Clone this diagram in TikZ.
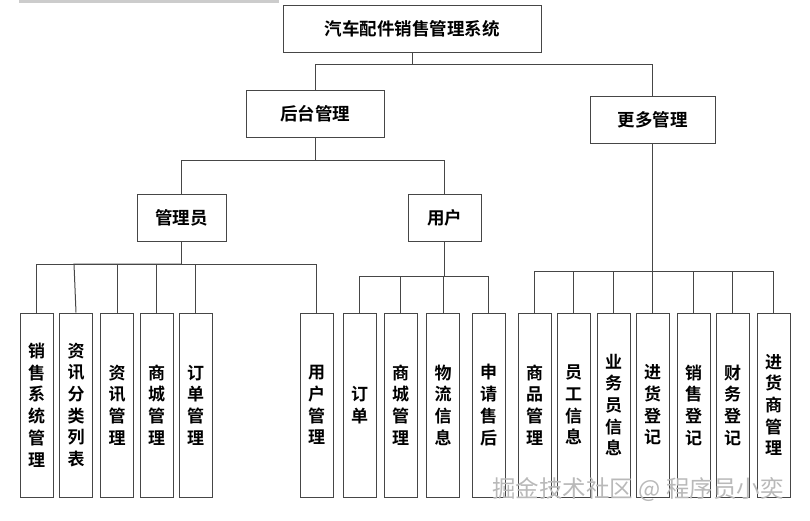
\documentclass[tikz,border=0pt]{standalone}
\usepackage{fontspec}
\newfontfamily\cjk{Noto Sans CJK SC}[BoldFont={Noto Sans CJK SC Bold}]
\begin{document}
\begin{tikzpicture}[x=1pt,y=-1pt,
  lc/.style={draw={rgb,255:red,70;green,70;blue,70}, line width=1pt},
  topbox/.style={lc, rectangle, inner sep=0pt, font=\cjk\bfseries\fontsize{17.5}{20}\selectfont, text=black},
  leaf/.style={lc, rectangle, inner sep=0pt, minimum width=33pt, minimum height=184pt, align=center, font=\cjk\bfseries\fontsize{17}{21.7}\selectfont, text=black},
  conn/.style={draw={rgb,255:red,70;green,70;blue,70}, line width=1pt}
]
\useasboundingbox (0,0) rectangle (810,520);
\fill[gray!40] (19,0) rectangle (279,3);
% top level
\node[topbox, minimum width=258pt, minimum height=47pt] (root) at (412,28.5) {汽车配件销售管理系统};
\node[topbox, minimum width=138pt, minimum height=47pt] (hout) at (315,113.5) {后台管理};
\node[topbox, minimum width=125pt, minimum height=47pt] (more) at (652.5,119.5) {更多管理};
\node[topbox, minimum width=89pt, minimum height=47pt] (admin) at (181.5,217.5) {管理员};
\node[topbox, minimum width=73pt, minimum height=47pt] (user) at (444.5,217.5) {用户};
% bus levels
\coordinate (b1) at (0,64);
\coordinate (b2) at (0,160);
\coordinate (b3) at (0,264);
\coordinate (b4) at (0,276);
\coordinate (b5) at (0,271);
% leaves
\node[leaf] (a1) at (36.5,405) {销\\售\\系\\统\\管\\理};
\node[leaf] (a2) at (76,405) {资\\讯\\分\\类\\列\\表};
\node[leaf] (a3) at (117,405) {资\\讯\\管\\理};
\node[leaf] (a4) at (156.5,405) {商\\城\\管\\理};
\node[leaf] (a5) at (195.5,405) {订\\单\\管\\理};
\node[leaf] (a6) at (316.5,405) {用\\户\\管\\理};
\node[leaf] (u1) at (359.5,405) {订\\单};
\node[leaf] (u2) at (400.5,405) {商\\城\\管\\理};
\node[leaf] (u3) at (443,405) {物\\流\\信\\息};
\node[leaf] (u4) at (488.5,405) {申\\请\\售\\后};
\node[leaf] (m1) at (534.5,405) {商\\品\\管\\理};
\node[leaf] (m2) at (573.5,405) {员\\工\\信\\息};
\node[leaf] (m3) at (613.5,405) {业\\务\\员\\信\\息};
\node[leaf] (m4) at (652.5,405) {进\\货\\登\\记};
\node[leaf] (m5) at (693.5,405) {销\\售\\登\\记};
\node[leaf] (m6) at (732.5,405) {财\\务\\登\\记};
\node[leaf] (m7) at (773.5,405) {进\\货\\商\\管\\理};
% connectors
\draw[conn] (root.south) -- (root.south |- b1) -| (hout.north);
\draw[conn] (root.south |- b1) -| (more.north);
\draw[conn] (hout.south) -- (hout.south |- b2) -| (admin.north);
\draw[conn] (hout.south |- b2) -| (user.north);
\foreach \c in {a1,a3,a4,a5,a6}{
  \draw[conn] (admin.south) -- (admin.south |- b3) -| (\c.north);
}
\draw[conn] (admin.south |- b3) -- ([xshift=-2pt]a2.north |- b3) -- (a2.north);
\foreach \c in {u1,u2,u3,u4}{
  \draw[conn] (user.south) -- (user.south |- b4) -| (\c.north);
}
\foreach \c in {m1,m2,m3,m4,m5,m6,m7}{
  \draw[conn] (more.south) -- (more.south |- b5) -| (\c.north);
}
% watermark
\node[font=\cjk\fontsize{23.5}{26}\selectfont, text=gray!55] (wm) at (638,490) {掘金技术社区 @ 程序员小奕};
\end{tikzpicture}
\end{document}
